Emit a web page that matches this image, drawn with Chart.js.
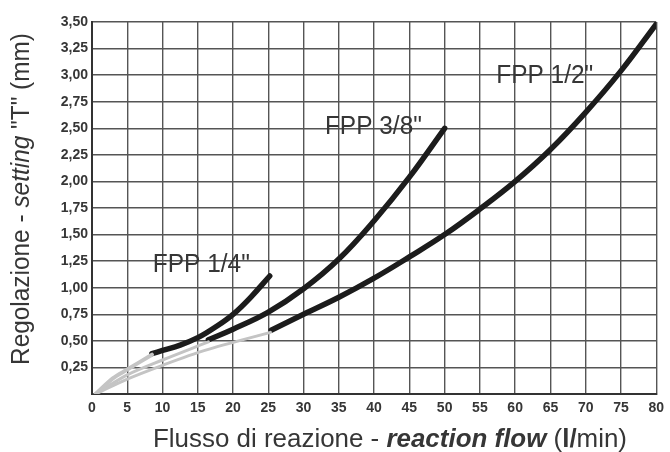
<!DOCTYPE html>
<html><head><meta charset="utf-8">
<script src="https://cdn.jsdelivr.net/npm/chart.js@4"></script>
<style>html,body{margin:0;padding:0;background:#fff}#wrap{width:670px;height:452px;position:relative}</style>
</head><body><div id="wrap"><canvas id="c" width="670" height="452"></canvas></div>
<script>
// ---- data ----
const xTicks = [0,5,10,15,20,25,30,35,40,45,50,55,60,65,70,75,80];
const yTicks = ['0,25','0,50','0,75','1,00','1,25','1,50','1,75','2,00','2,25','2,50','2,75','3,00','3,25','3,50'];
const seriesNames = ['FPP 1/4"', 'FPP 3/8"', 'FPP 1/2"'];
const fpp14X = [8.5, 10, 12.5, 15, 17.5, 20, 22.5, 25.2];
const fpp14Y = [0.38, 0.41, 0.46, 0.53, 0.63, 0.75, 0.91, 1.11];
const fpp38X = [16.5, 20, 25, 30, 35, 40, 45, 50];
const fpp38Y = [0.51, 0.61, 0.77, 0.99, 1.27, 1.63, 2.04, 2.50];
const fpp12X = [25.4, 30, 35, 40, 45, 50, 55, 60, 65, 70, 75, 80];
const fpp12Y = [0.60, 0.75, 0.91, 1.09, 1.29, 1.50, 1.74, 2.00, 2.30, 2.65, 3.04, 3.48];
// light grey lead-in lines from the origin
const grey14X = [0.5, 3, 5, 8.5];
const grey14Y = [0.0, 0.15, 0.23, 0.37];
const grey38X = [0.5, 5, 10, 16.5];
const grey38Y = [0.0, 0.18, 0.32, 0.49];
const grey12X = [0.5, 5, 10, 16, 25.3];
const grey12Y = [0.0, 0.14, 0.27, 0.41, 0.58];
// label anchor points (data coords)
const labelPos = [[15.5, 1.145], [39.9, 2.445], [64.2, 2.93]];

const pts = (xs, ys) => xs.map((x, i) => ({x, y: ys[i]}));
const greyDs = (xs, ys, w) => ({data: pts(xs, ys), borderColor: '#c4c4c4', borderWidth: w, showLine: true, pointRadius: 0, tension: 0.3, borderCapStyle: 'round'});
const blackDs = (xs, ys, name) => ({label: name, data: pts(xs, ys), borderColor: '#1c1c1c', borderWidth: 5.5, showLine: true, pointRadius: 0, tension: 0.4, borderCapStyle: 'round'});

const txt = '#363636';
function drawSegs(ctx, segs, size, targetW) {
  let total = 0;
  const ws = segs.map(s => { ctx.font = s[1] + ' ' + size + 'px "Liberation Sans", Arial, sans-serif'; const w = ctx.measureText(s[0]).width; total += w; return w; });
  const k = targetW / total;
  ctx.scale(k, 1);
  let x = -total / 2;
  segs.forEach((s, i) => { ctx.font = s[1] + ' ' + size + 'px "Liberation Sans", Arial, sans-serif'; ctx.fillText(s[0], x, 0); x += ws[i]; });
}
const titles = {
  id: 'titles',
  afterDraw(chart) {
    const ctx = chart.ctx;
    const xs = chart.scales.x, ys = chart.scales.y;
    ctx.save();
    ctx.fillStyle = txt; ctx.textBaseline = 'alphabetic'; ctx.textAlign = 'left';
    // series labels
    seriesNames.forEach((n, i) => {
      ctx.save();
      ctx.translate(xs.getPixelForValue(labelPos[i][0]), ys.getPixelForValue(labelPos[i][1]));
      drawSegs(ctx, [[n, 'normal']], 26, 97);
      ctx.restore();
    });
    // x title
    ctx.save();
    ctx.translate(390, 447);
    drawSegs(ctx, [['Flusso di reazione - ', 'normal'], ['reaction flow', 'italic bold'], [' (', 'normal'], ['l/', 'bold'], ['min)', 'normal']], 25, 474);
    ctx.restore();
    // y title
    ctx.save();
    ctx.translate(29, 199);
    ctx.rotate(-Math.PI / 2);
    drawSegs(ctx, [['Regolazione - ', 'normal'], ['setting', 'italic'], [' "T" (mm)', 'normal']], 25, 332);
    ctx.restore();
    ctx.restore();
  }
};

new Chart(document.getElementById('c'), {
  type: 'scatter',
  data: {datasets: [
    greyDs(grey14X, grey14Y, 4), greyDs(grey38X, grey38Y, 3), greyDs(grey12X, grey12Y, 3),
    blackDs(fpp14X, fpp14Y, seriesNames[0]), blackDs(fpp38X, fpp38Y, seriesNames[1]), blackDs(fpp12X, fpp12Y, seriesNames[2])
  ]},
  options: {
    responsive: false, animation: false, devicePixelRatio: 1,
    layout: {padding: {top: 22, right: 12, left: 0, bottom: 0}},
    plugins: {legend: {display: false}, tooltip: {enabled: false}},
    scales: {
      x: {type: 'linear', min: 0, max: 80,
        afterBuildTicks: s => { s.ticks = xTicks.map(v => ({value: v})); },
        afterFit: s => { s.height = 58; },
        ticks: {color: txt, font: {family: '"Liberation Sans", Arial', size: 14, weight: 'bold'}, padding: 6, maxRotation: 0, autoSkip: false, callback: v => String(v)},
        grid: {color: '#555', lineWidth: 1.4, drawTicks: false},
        border: {color: '#333', width: 2}
      },
      y: {type: 'linear', min: 0, max: 3.5,
        afterBuildTicks: s => { s.ticks = [0].concat(yTicks.map(t => parseFloat(t.replace(',', '.')))).map(v => ({value: v})); },
        afterFit: s => { s.width = 92; },
        ticks: {color: txt, font: {family: '"Liberation Sans", Arial', size: 14, weight: 'bold'}, padding: 4, autoSkip: false,
          callback: v => v === 0 ? '' : yTicks[Math.round(v / 0.25) - 1]},
        grid: {color: '#555', lineWidth: 1.4, drawTicks: false},
        border: {color: '#333', width: 2}
      }
    }
  },
  plugins: [titles]
});
</script></body></html>
